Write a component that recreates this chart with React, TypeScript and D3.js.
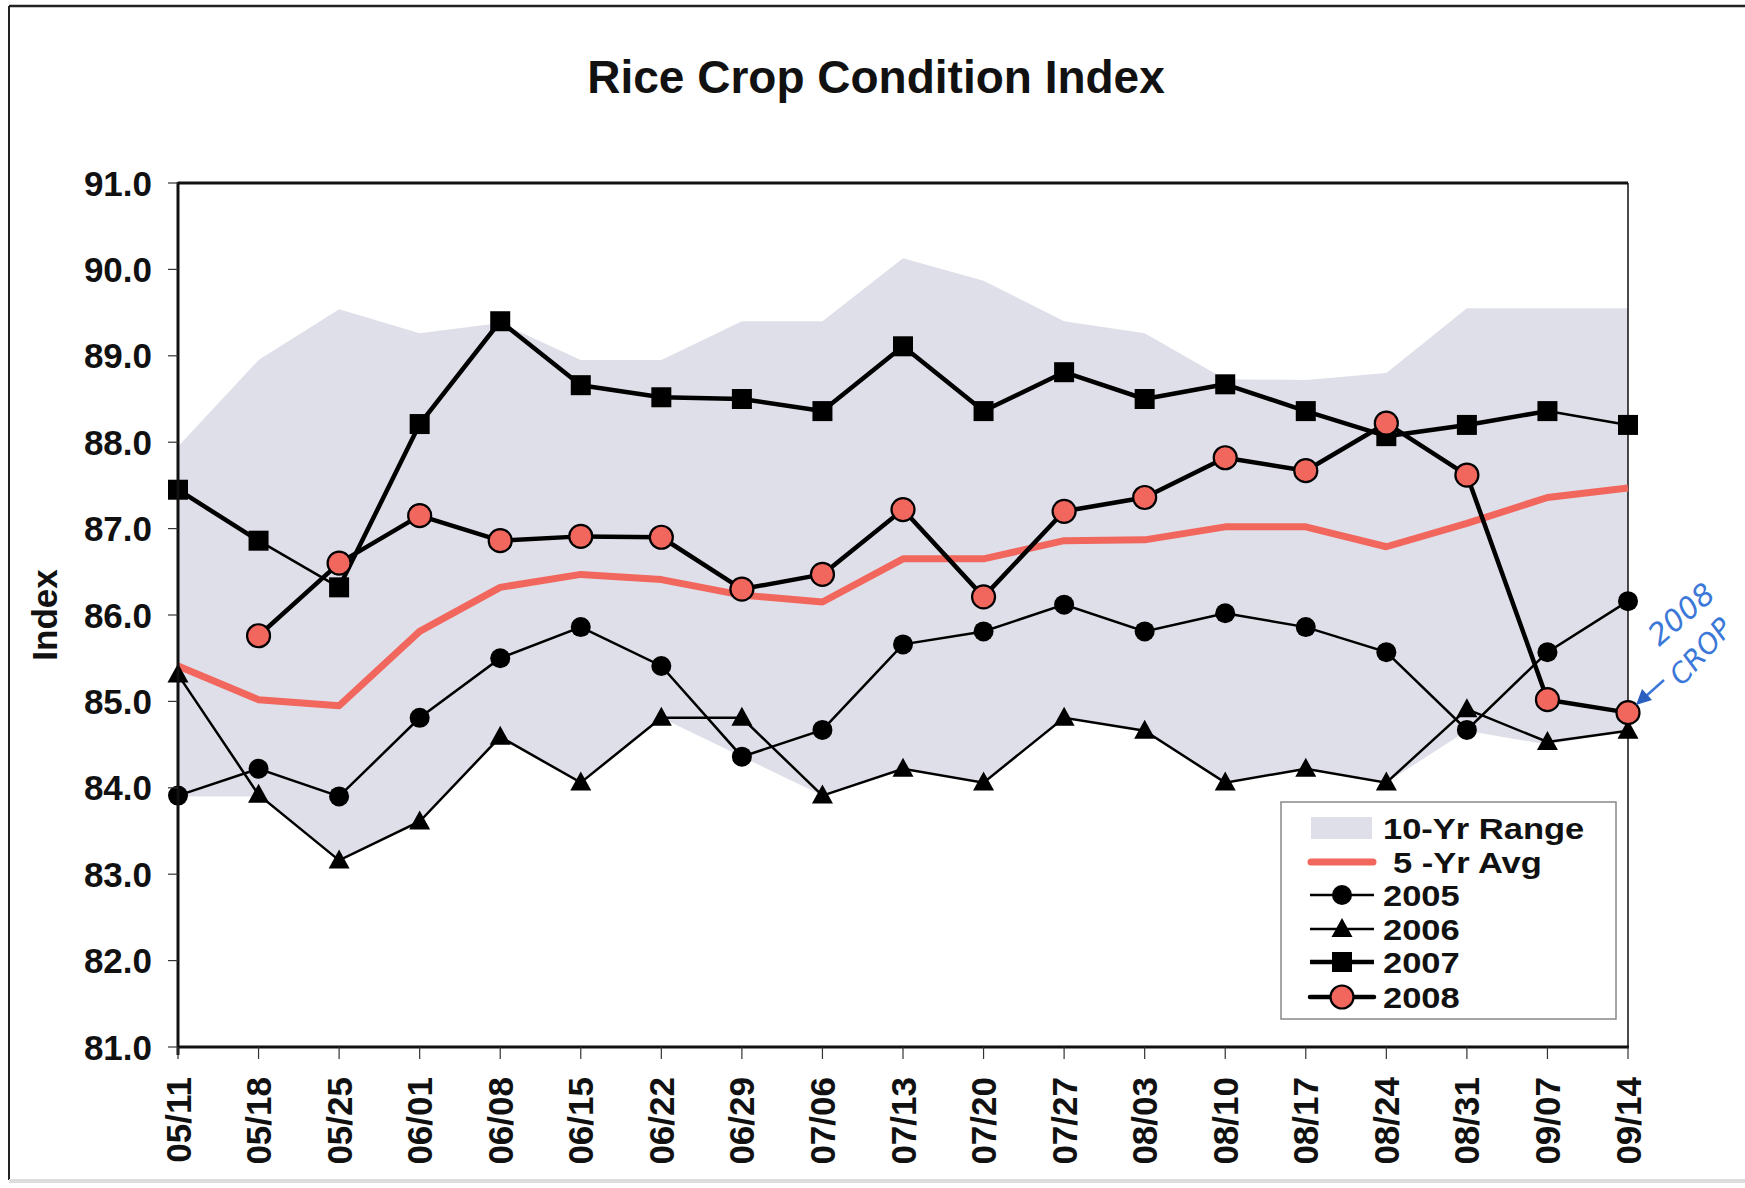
import React from 'react';
import * as d3 from 'd3';

const dates = ['05/11','05/18','05/25','06/01','06/08','06/15','06/22','06/29','07/06','07/13','07/20','07/27','08/03','08/10','08/17','08/24','08/31','09/07','09/14'];
const rangeHi = [87.95, 88.95, 89.54, 89.26, 89.38, 88.95, 88.95, 89.4, 89.4, 90.13, 89.87, 89.4, 89.26, 88.73, 88.72, 88.8, 89.55, 89.55, 89.55];
const rangeLo = [83.9, 83.9, 83.16, 83.61, 84.59, 84.06, 84.81, 84.36, 83.91, 84.22, 84.06, 84.81, 84.66, 84.06, 84.22, 84.06, 84.66, 84.5, 84.66];
const avg5 = [85.41, 85.02, 84.95, 85.81, 86.32, 86.47, 86.41, 86.23, 86.15, 86.65, 86.65, 86.86, 86.87, 87.02, 87.02, 86.79, 87.06, 87.36, 87.47];
const s2005 = [83.91, 84.22, 83.9, 84.81, 85.5, 85.86, 85.41, 84.36, 84.67, 85.66, 85.81, 86.12, 85.81, 86.02, 85.86, 85.57, 84.67, 85.57, 86.16];
const s2006 = [85.31, 83.92, 83.16, 83.61, 84.59, 84.06, 84.81, 84.81, 83.91, 84.22, 84.06, 84.81, 84.66, 84.06, 84.22, 84.06, 84.91, 84.53, 84.66];
const s2007 = [87.45, 86.86, 86.32, 88.21, 89.4, 88.66, 88.52, 88.5, 88.36, 89.11, 88.36, 88.81, 88.5, 88.67, 88.36, 88.07, 88.2, 88.36, 88.2];
const s2008: (number | null)[] = [null, 85.76, 86.6, 87.15, 86.86, 86.91, 86.9, 86.3, 86.47, 87.22, 86.21, 87.2, 87.36, 87.82, 87.67, 88.22, 87.62, 85.02, 84.87];
const thin2007 = [1, 17];
const yTicks = [81, 82, 83, 84, 85, 86, 87, 88, 89, 90, 91];
const legendItems = ['10-Yr Range', '5 -Yr Avg', '2005', '2006', '2007', '2008'];

const FONT = '"Liberation Sans", Arial, Helvetica, sans-serif';
const GRAY = '#dfdfe9';
const RED = '#f2675d';

export default function App() {
  const L = 178, R = 1628, T = 183, B = 1047;
  const x = d3.scalePoint<string>().domain(dates).range([L, R]);
  const y = d3.scaleLinear().domain([81, 91]).range([B, T]);
  const xi = (i: number) => x(dates[i]) as number;

  const area = d3.area<number>()
    .x((_, i) => xi(i))
    .y0((_, i) => y(rangeLo[i]))
    .y1((d) => y(d));
  const line = d3.line<number | null>()
    .defined((d) => d != null)
    .x((_, i) => xi(i))
    .y((d) => y(d as number));

  const tri = (cx: number, cy: number, s = 1) =>
    `M${cx},${cy - 11 * s}L${cx + 10.5 * s},${cy + 8 * s}L${cx - 10.5 * s},${cy + 8 * s}Z`;

  const legX = 1281, legY = 802, legW = 335, legH = 217;
  const rowY = [828, 862, 895, 929, 962, 997];

  return (
    <svg width={1745} height={1188} style={{ position: 'absolute', left: 0, top: 0, background: '#fff' }} fontFamily={FONT}>
      <rect x={0} y={0} width={1745} height={1188} fill="#fff" />
      {/* outer frame */}
      <line x1={9} y1={6} x2={1745} y2={6} stroke="#222" strokeWidth={2.5} />
      <line x1={9} y1={6} x2={9} y2={1180} stroke="#222" strokeWidth={2} />
      <line x1={9} y1={1181} x2={1745} y2={1181} stroke="#ddd" strokeWidth={4} />

      <text x={876} y={93} textAnchor="middle" fontSize={46} fontWeight="bold" fill="#111">Rice Crop Condition Index</text>

      {/* range */}
      <path d={area(rangeHi) || ''} fill={GRAY} />

      {/* plot border */}
      <line x1={L} y1={T} x2={R} y2={T} stroke="#111" strokeWidth={3} />
      <line x1={R} y1={T} x2={R} y2={B} stroke="#111" strokeWidth={1.5} />

      {/* 5-yr avg */}
      <path d={line(avg5) || ''} fill="none" stroke={RED} strokeWidth={7} strokeLinejoin="round" />

      {/* 2005 */}
      <path d={line(s2005) || ''} fill="none" stroke="#000" strokeWidth={2.5} />
      {s2005.map((v, i) => <circle key={'a' + i} cx={xi(i)} cy={y(v)} r={10} fill="#000" />)}

      {/* 2006 */}
      <path d={line(s2006) || ''} fill="none" stroke="#000" strokeWidth={2.5} />
      {s2006.map((v, i) => <path key={'b' + i} d={tri(xi(i), y(v))} fill="#000" />)}

      {/* 2007 */}
      {s2007.slice(1).map((v, i) => (
        <line key={'cl' + i} x1={xi(i)} y1={y(s2007[i])} x2={xi(i + 1)} y2={y(v)} stroke="#000"
          strokeWidth={thin2007.includes(i) ? 2.5 : 4.5} strokeLinecap="round" />
      ))}
      {s2007.map((v, i) => <rect key={'c' + i} x={xi(i) - 10} y={y(v) - 10} width={20} height={20} fill="#000" />)}

      {/* 2008 */}
      <path d={line(s2008) || ''} fill="none" stroke="#000" strokeWidth={4.5} strokeLinejoin="round" />
      {s2008.map((v, i) => v == null ? null : (
        <circle key={'d' + i} cx={xi(i)} cy={y(v)} r={11.5} fill={RED} stroke="#000" strokeWidth={2.2} />
      ))}

      {/* axes */}
      <line x1={L} y1={T - 1} x2={L} y2={B + 8} stroke="#111" strokeWidth={3} />
      <line x1={L - 1} y1={B} x2={R + 1} y2={B} stroke="#111" strokeWidth={3} />
      {yTicks.map((t) => (
        <g key={'yt' + t}>
          <line x1={L - 10} y1={y(t)} x2={L} y2={y(t)} stroke="#333" strokeWidth={1.2} />
          <text x={152} y={y(t)} dy="0.36em" textAnchor="end" fontSize={35} fontWeight="bold" fill="#111">{t.toFixed(1)}</text>
        </g>
      ))}
      {dates.map((d, i) => (
        <g key={'xt' + d}>
          <line x1={xi(i)} y1={B} x2={xi(i)} y2={B + 12} stroke="#333" strokeWidth={1.2} />
          <text transform={`translate(${xi(i)},1077) rotate(-90)`} dy="0.36em" textAnchor="end" fontSize={35} fontWeight="bold" fill="#111">{d}</text>
        </g>
      ))}
      <text transform="translate(44,615) rotate(-90)" dy="0.36em" textAnchor="middle" fontSize={35} fontWeight="bold" fill="#111">Index</text>

      {/* legend */}
      <rect x={legX} y={legY} width={legW} height={legH} fill="#fff" stroke="#888" strokeWidth={1.5} />
      <rect x={1311} y={817} width={61} height={22} fill={GRAY} />
      <line x1={1311} y1={rowY[1]} x2={1373} y2={rowY[1]} stroke={RED} strokeWidth={7} strokeLinecap="round" />
      <line x1={1310} y1={rowY[2]} x2={1374} y2={rowY[2]} stroke="#000" strokeWidth={2.5} />
      <circle cx={1342} cy={rowY[2]} r={10} fill="#000" />
      <line x1={1310} y1={rowY[3]} x2={1374} y2={rowY[3]} stroke="#000" strokeWidth={2.5} />
      <path d={tri(1342, rowY[3])} fill="#000" />
      <line x1={1310} y1={rowY[4]} x2={1374} y2={rowY[4]} stroke="#000" strokeWidth={4.5} />
      <rect x={1332} y={rowY[4] - 10} width={20} height={20} fill="#000" />
      <line x1={1310} y1={rowY[5]} x2={1374} y2={rowY[5]} stroke="#000" strokeWidth={4.5} strokeLinecap="round" />
      <circle cx={1342} cy={rowY[5]} r={11.5} fill={RED} stroke="#000" strokeWidth={2.2} />
      {legendItems.map((t, i) => (
        <g key={'lg' + i} transform={`translate(${i === 1 ? 1393 : 1383},${rowY[i]}) scale(1.15,1)`}>
          <text x={0} y={0} dy="0.36em" fontSize={30} fontWeight="bold" fill="#111">{t}</text>
        </g>
      ))}

      {/* handwritten annotation */}
      <g fill="#3b78d8" fontFamily='"DejaVu Sans", sans-serif' fontStyle="italic">
        <text transform="translate(1688,622) rotate(-41)" textAnchor="middle" fontSize={30}>2008</text>
        <text transform="translate(1708,658) rotate(-48)" textAnchor="middle" fontSize={28}>CROP</text>
      </g>
      <line x1={1664} y1={680} x2={1645} y2={697} stroke="#3b78d8" strokeWidth={2.5} />
      <path d="M1636,705 L1642,689 L1652,700 Z" fill="#2a5fc0" />
    </svg>
  );
}
